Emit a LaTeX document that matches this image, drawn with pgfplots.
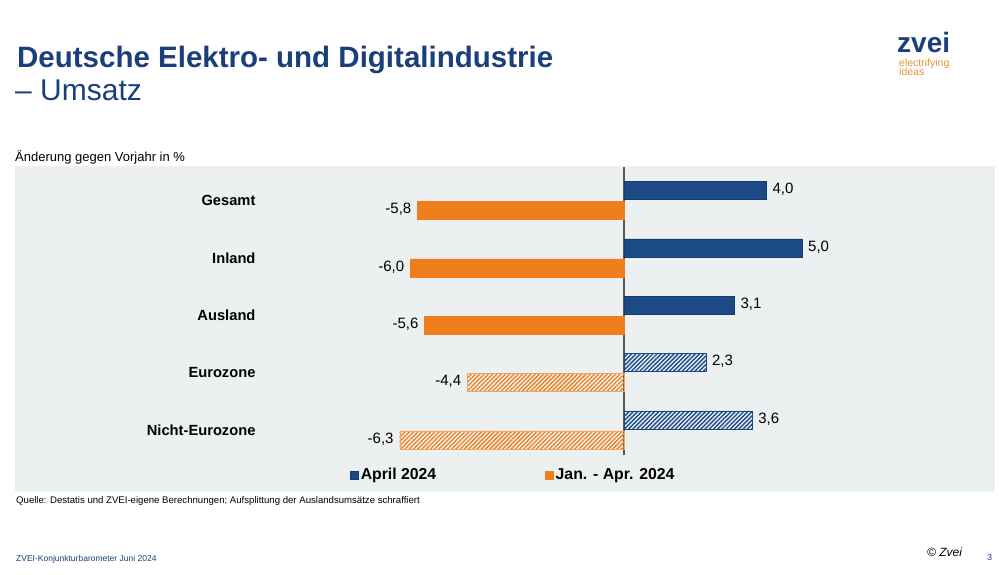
\documentclass[border=0pt]{standalone}
\usepackage{pgfplots}
\pgfplotsset{compat=1.18}
\usepackage{fontspec}
\setmainfont{Liberation Sans}
\usetikzlibrary{patterns.meta}
\definecolor{zblue}{HTML}{1C4A86}
\definecolor{ztitle}{HTML}{1B3F7A}
\definecolor{zorange}{HTML}{EE7F1C}
\definecolor{zpanel}{HTML}{EDF0F1}
\definecolor{zlogoor}{HTML}{E8923A}
\newcommand{\fs}[1]{\fontsize{#1}{#1}\selectfont}
\begin{document}
\begin{tikzpicture}[x=1pt,y=1pt]
\fill[white] (0pt,0pt) rectangle (999pt,-574pt);
% panel
\fill[zpanel] (15pt,-166pt) rectangle (995pt,-492pt);
% titles
\node[anchor=base west, inner sep=0, text=ztitle, font=\fs{29.5}\bfseries] at (17pt,-67pt) {Deutsche Elektro- und Digitalindustrie};
\node[anchor=base west, inner sep=0, text=ztitle, font=\fs{30}] at (15pt,-100pt) {– Umsatz};
\node[anchor=base west, inner sep=0, font=\fs{13}] at (15pt,-161pt) {Änderung gegen Vorjahr in \%};
\node[anchor=base west, inner sep=0, font=\fs{9.6}] at (16pt,-503pt) {Quelle: Destatis und ZVEI-eigene Berechnungen; Aufsplittung der Auslandsumsätze schraffiert};
\node[anchor=base west, inner sep=0, text=ztitle, font=\fs{8.5}] at (16pt,-561pt) {ZVEI-Konjunkturbarometer Juni 2024};
\node[anchor=base west, inner sep=0, font=\fs{12}\itshape] at (927pt,-556pt) {© Zvei};
\node[anchor=base west, inner sep=0, text=ztitle, font=\fs{9}] at (987pt,-560pt) {3};
% logo
\node[anchor=base west, inner sep=0, text=ztitle, font=\fs{28}\bfseries] at (897pt,-52pt) {zvei};
\node[anchor=base west, inner sep=0, text=zlogoor, font=\fs{10.5}] at (899pt,-66pt) {electrifying};
\node[anchor=base west, inner sep=0, text=zlogoor, font=\fs{10.5}] at (899pt,-75pt) {ideas};
\begin{axis}[
  at={(15pt,-455pt)}, anchor=south west,
  scale only axis, width=980pt, height=288.5pt,
  xmin=-17.107, xmax=10.421,
  ymin=-0.437, ymax=4.594,
  xbar, bar width=18pt,
  axis line style={draw=none},
  xtick=\empty,
  ytick={0,1,2,3,4},
  yticklabels={Nicht-Eurozone,Eurozone,Ausland,Inland,Gesamt},
  major tick length=0pt,
  yticklabel style={font=\fs{14.7}\bfseries, anchor=east, xshift=244pt},
  extra x ticks={0}, extra x tick labels={},
  extra x tick style={grid=major, major grid style={draw=black!65, line width=1.2pt}},
  nodes near coords,
  nodes near coords align={horizontal},
  every node near coord/.append style={font=\fs{15}, inner sep=6pt, text=black, yshift=1pt},
  /pgf/number format/.cd, use comma, fixed, fixed zerofill, precision=1, assume math mode=true,
  /pgfplots/.cd,
  legend columns=2,
  legend style={at={(0.342,-0.069)}, anchor=west, draw=none, fill=none,
    font=\fs{15.8}\bfseries, inner sep=0pt,
    /tikz/every even column/.append style={column sep=107pt}},
  legend image code/.code={\fill[#1] (0pt,-4pt) rectangle (8pt,4pt);},
]
\addplot[fill=zblue, draw=zblue!80!black, bar shift=10pt] coordinates {(4.0,4) (5.0,3) (3.1,2)};
\addlegendentry{April 2024}
\addplot[fill=zorange, draw=zorange, bar shift=-10pt] coordinates {(-5.8,4) (-6.0,3) (-5.6,2)};
\addlegendentry{Jan. - Apr. 2024}
\addplot[forget plot, fill=white, draw=zblue, pattern={Lines[angle=45,distance=3pt,line width=1.4pt]}, pattern color=zblue, bar shift=10pt] coordinates {(2.3,1) (3.6,0)};
\addplot[forget plot, fill=white, draw=zorange!70, pattern={Lines[angle=45,distance=3pt,line width=1.3pt]}, pattern color=zorange, bar shift=-10pt] coordinates {(-4.4,1) (-6.3,0)};
\end{axis}
\pgfresetboundingbox
\useasboundingbox (0pt,0pt) rectangle (999pt,-574pt);
\end{tikzpicture}
\end{document}
